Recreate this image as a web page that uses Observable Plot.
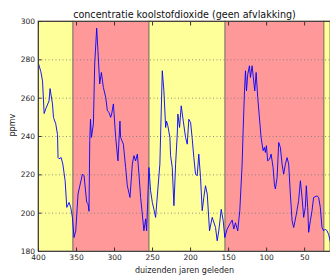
<!DOCTYPE html>
<html>
<head>
<meta charset="utf-8">
<script src="https://cdn.jsdelivr.net/npm/d3@7"></script>
<script src="https://cdn.jsdelivr.net/npm/@observablehq/plot@0.6"></script>
<style>
  body { margin: 0; background: #fff; }
  svg { font-family: "DejaVu Sans", sans-serif; }
</style>
</head>
<body>
<div id="chart"></div>
<script>
const title = "concentratie koolstofdioxide (geen afvlakking)";
const xLabel = "duizenden jaren geleden";
const yLabel = "ppmv";
const xTicks = [400, 350, 300, 250, 200, 150, 100, 50];
const yTicks = [180, 200, 220, 240, 260, 280, 300];

// background periods (thousand years ago)
const bandStart = [400, 354, 254, 154, 24];
const bandEnd = [354, 254, 154, 24, 16];
const bandKind = ["warm", "koud", "warm", "koud", "warm"];

// CO2 series: age (kyr BP) and concentration (ppmv)
const age = [400, 397, 394.7, 392.6, 390.4, 386.1, 384.8, 381.6, 380.3, 377.3, 375, 374.3, 373, 370.2, 368, 365, 362.8, 359.8, 357.6, 355.4, 353.3, 351, 348, 342.2, 340.1, 336.6, 334.9, 333.6, 332.6, 331.6, 330.4, 327.8, 326.1, 323.5, 321.8, 319.5, 317.3, 314.7, 311.6, 309.4, 307.3, 305.1, 303.8, 301.5, 298.5, 295.5, 292.9, 292, 288.4, 285.4, 283.2, 279.7, 276.6, 274.5, 272.3, 270, 267.9, 265.7, 263.5, 261.4, 259.1, 257.8, 254.8, 252.6, 250.3, 248.2, 246, 240.4, 237.2, 235.1, 232.8, 231.6, 229.9, 227.2, 226.3, 224.1, 221.9, 219.7, 217.5, 216.7, 214.5, 212.3, 209.6, 206.6, 204.4, 202.3, 200, 198, 195.7, 193.5, 191.3, 189.2, 186.9, 184.7, 182.6, 180.4, 178.1, 175.1, 171.6, 170, 167.2, 165, 162.9, 159.7, 157.1, 155, 151.9, 148.4, 145.3, 143.2, 141, 138, 135.3, 132.2, 130.9, 129.1, 127.8, 126.5, 124.8, 122.6, 121.3, 119.1, 117, 115.6, 113.8, 111.7, 109.1, 107.3, 104.6, 102.9, 101.6, 100.3, 98.6, 96, 94.1, 91.5, 89.8, 88.5, 86.2, 84.1, 81.9, 79.7, 77.6, 75.3, 73.1, 71, 68.8, 66.5, 64.4, 60.9, 57.9, 55.6, 53.4, 51.3, 49.1, 47.8, 46, 44.7, 42.5, 40.3, 38.2, 33.7, 31.6, 29.4, 27.2, 25, 22.8, 20.6, 18.5, 16.2];
const co2 = [278, 274, 269, 252, 254.5, 258.6, 265, 257, 250, 246.6, 241, 229, 228.4, 229, 225.6, 217, 203, 205.6, 203, 197.8, 187.3, 190.8, 210, 220.4, 219.5, 205.6, 205, 201, 238, 249, 239.5, 246.6, 277.8, 296.5, 284.7, 267.4, 273.4, 265.6, 260.4, 253.4, 252.6, 250, 251.7, 257, 239.5, 227.3, 248, 239.5, 236, 223.8, 214.3, 208.2, 225.6, 230, 227.3, 230.8, 220.4, 208.2, 199.5, 190.8, 197, 190.8, 223.8, 211.7, 205.6, 202, 197.8, 225.6, 274.3, 263.8, 244.7, 248, 245.6, 239.5, 230, 223.8, 203.9, 225.6, 241.3, 251.7, 244.7, 256, 248, 239.5, 236, 249, 247.3, 239.5, 229, 220.4, 219.5, 230.8, 218.6, 201.3, 208.2, 214.3, 210, 190.8, 197.8, 196, 192.5, 185.6, 190.8, 202, 196, 187.3, 191.7, 194.3, 196.4, 191.7, 195, 190.8, 201.3, 225.6, 243, 263.8, 274.3, 263.8, 272.5, 276.9, 270.8, 276.9, 269, 263.8, 273.4, 260.4, 248, 239.5, 232.6, 234.3, 231.7, 235.2, 227.3, 228.2, 230.8, 223.8, 215.2, 212.6, 218.6, 236.9, 234.3, 225.6, 220.4, 225.6, 229, 225.6, 210, 196, 192.5, 199.5, 206.5, 216.9, 208.2, 197.8, 203, 214.3, 203, 190, 196, 201.3, 208.2, 209, 208.2, 203, 192.5, 190.8, 191.7, 190.8, 189, 185];

const bands = bandStart.map((s, i) => ({start: s, end: bandEnd[i], kind: bandKind[i]}));
const series = age.map((a, i) => ({age: a, co2: co2[i]}));
const noText = () => "";

const chart = Plot.plot({
  width: 330,
  height: 275,
  marginLeft: 38,
  marginRight: 0,
  marginTop: 21,
  marginBottom: 24,
  style: {fontFamily: "DejaVu Sans, sans-serif", fontSize: "7.5px", color: "#222", background: "#fff"},
  x: {domain: [400, 16], ticks: xTicks},
  y: {domain: [180, 300], ticks: yTicks},
  color: {domain: ["warm", "koud"], range: ["#ffff99", "#ff9999"]},
  marks: [
    Plot.rect(bands, {x1: "start", x2: "end", fill: "kind", stroke: "#8a7a68", strokeWidth: 1}),
    Plot.gridY(yTicks.slice(1, -1), {stroke: "#777", strokeOpacity: 1, strokeWidth: 0.8, strokeDasharray: "1,2.5"}),
    Plot.line(series, {x: "age", y: "co2", stroke: "#0000ff", strokeWidth: 0.9}),
    Plot.ruleY([180], {stroke: "#444"}),
    Plot.ruleY([300], {stroke: "#444"}),
    Plot.ruleX([400], {stroke: "#444"}),
    Plot.axisX(xTicks, {anchor: "bottom", tickSize: 3.5, dy: -3.5, tickFormat: noText, label: null, stroke: "#333"}),
    Plot.axisX(xTicks, {anchor: "top", tickSize: 3.5, dy: 3.5, tickFormat: noText, label: null, stroke: "#333"}),
    Plot.axisY(yTicks, {anchor: "left", tickSize: 3.5, dx: 3.5, tickFormat: noText, label: null, stroke: "#333"}),
    Plot.axisX(xTicks, {anchor: "bottom", tickSize: 0, tickPadding: 3, fontSize: 7.5, label: null, fill: "#222"}),
    Plot.axisY(yTicks, {anchor: "left", tickSize: 0, tickPadding: 3.5, fontSize: 7.5, label: null, fill: "#222"}),
    Plot.text([yLabel], {frameAnchor: "left", dx: -26, rotate: -90, lineAnchor: "middle", fontSize: 8, fill: "#222"}),
    Plot.text([xLabel], {frameAnchor: "bottom", dy: 18.6, lineAnchor: "middle", fontSize: 8, fill: "#222"}),
    Plot.text([title], {frameAnchor: "top", dy: -6.7, lineAnchor: "middle", fontSize: 9.6, fill: "#111"})
  ]
});
document.getElementById("chart").appendChild(chart);
</script>
</body>
</html>
